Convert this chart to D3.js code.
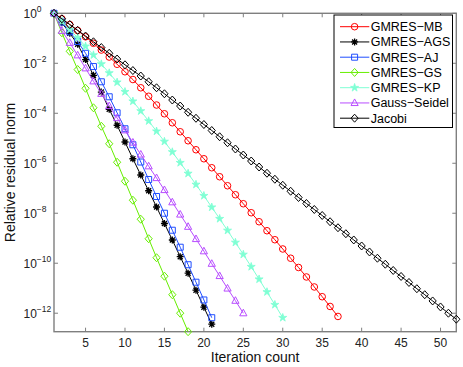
<!DOCTYPE html>
<html>
<head>
<meta charset="utf-8">
<script src="https://cdn.jsdelivr.net/npm/d3@7"></script>
<style>
  body { margin: 0; background: #fff; }
  text { font-family: "Liberation Sans", Arial, Helvetica, sans-serif; }
</style>
</head>
<body>
<div id="chart"></div>
<script>
// log10 of the relative residual norm, one value per iteration (starting at 1)
var gmresMB = [0, -0.22, -0.45, -0.69, -0.94, -1.20, -1.47, -1.75, -2.04, -2.34, -2.65, -2.98, -3.32,
  -3.67, -4.02, -4.38, -4.74, -5.10, -5.46, -5.82, -6.18, -6.54, -6.90, -7.26, -7.62, -7.98, -8.34,
  -8.70, -9.06, -9.43, -9.80, -10.17, -10.55, -10.95, -11.34, -11.73, -12.13];
var gmresAGS = [0, -0.38, -0.80, -1.24, -1.85, -2.48, -3.15, -3.84, -4.48, -5.15, -5.82, -6.47, -7.10,
  -7.75, -8.41, -9.07, -9.74, -10.40, -11.08, -11.76, -12.44];
var gmresAJ = [0, -0.35, -0.74, -1.13, -1.60, -2.13, -2.74, -3.34, -3.98, -4.62, -5.26, -5.95, -6.65,
  -7.33, -8.00, -8.68, -9.36, -10.06, -10.76, -11.47, -12.18];
var gmresGS = [0, -0.78, -1.52, -2.25, -3.00, -3.78, -4.52, -5.22, -5.96, -6.72, -7.48, -8.24, -9.02,
  -9.78, -10.52, -11.26, -12.00, -12.74];
var gmresKP = [0, -0.32, -0.65, -0.98, -1.32, -1.67, -2.03, -2.39, -2.76, -3.14, -3.52, -3.91, -4.31,
  -4.72, -5.13, -5.55, -5.98, -6.41, -6.85, -7.30, -7.76, -8.22, -8.69, -9.17, -9.65, -10.14, -10.64,
  -11.15, -11.66, -12.18];
var gaussSeidel = [0, -0.70, -1.18, -1.68, -2.20, -2.72, -3.22, -3.71, -4.19, -4.68, -5.17, -5.65,
  -6.12, -6.59, -7.07, -7.56, -8.05, -8.54, -9.03, -9.52, -10.02, -10.51, -11.01, -11.50, -12.00];
var jacobi = [0, -0.22, -0.45, -0.68, -0.91, -1.14, -1.37, -1.60, -1.83, -2.06, -2.29, -2.51, -2.74,
  -2.98, -3.22, -3.47, -3.71, -3.96, -4.20, -4.45, -4.69, -4.94, -5.18, -5.43, -5.67, -5.91, -6.15,
  -6.40, -6.64, -6.88, -7.12, -7.37, -7.61, -7.85, -8.09, -8.34, -8.58, -8.82, -9.07, -9.31, -9.55,
  -9.80, -10.04, -10.29, -10.53, -10.77, -11.02, -11.26, -11.51, -11.75, -12.00, -12.24];

var seriesNames = ["GMRES\u2212MB", "GMRES\u2212AGS", "GMRES\u2212AJ", "GMRES\u2212GS", "GMRES\u2212KP", "Gauss\u2212Seidel", "Jacobi"];
var seriesValues = [gmresMB, gmresAGS, gmresAJ, gmresGS, gmresKP, gaussSeidel, jacobi];
var xTicks = [5, 10, 15, 20, 25, 30, 35, 40, 45, 50];
var yTickExps = [0, -2, -4, -6, -8, -10, -12];

var styles = [
  { color: "#ff0000", marker: "circle" },
  { color: "#000000", marker: "asterisk" },
  { color: "#1f4dff", marker: "square" },
  { color: "#66ee00", marker: "diamond" },
  { color: "#7fffd4", marker: "star" },
  { color: "#b84dff", marker: "triangle" },
  { color: "#000000", marker: "diamond" }
];

var svgWidth = 463, svgHeight = 367;
var plotLeft = 54, plotRight = 456.3, plotTop = 13.3, plotBottom = 331.7;

var svg = d3.select("#chart").append("svg")
  .attr("width", svgWidth)
  .attr("height", svgHeight);

var x = d3.scaleLinear().domain([1, 52]).range([plotLeft, plotRight]);
var y = d3.scaleLog().domain([Math.pow(10, -12.74), 1]).range([plotBottom, plotTop]);

function markerPath(type) {
  switch (type) {
    case "circle": return d3.symbol(d3.symbolCircle, 34)();
    case "square": return "M-3,-3H3V3H-3Z";
    case "diamond": return "M0,-4L3.6,0L0,4L-3.6,0Z";
    case "triangle": return "M0,-4L3.6,2.6H-3.6Z";
    case "star": return d3.symbol(d3.symbolStar, 20)();
    case "asterisk": return "M0,-3.5V3.5M-3.5,0H3.5M-2.5,-2.5L2.5,2.5M-2.5,2.5L2.5,-2.5";
  }
}

function drawMarker(g, type, color) {
  var p = g.append("path").attr("d", markerPath(type))
    .attr("stroke", color).attr("stroke-width", 1);
  if (type === "star") p.attr("fill", color).attr("stroke-width", 0.8);
  else if (type === "asterisk") p.attr("fill", "none").attr("stroke-width", 1.3);
  else p.attr("fill", "none");
}

// axes box
var axisColor = "#7f7f7f";
svg.append("rect")
  .attr("x", plotLeft).attr("y", plotTop)
  .attr("width", plotRight - plotLeft).attr("height", plotBottom - plotTop)
  .attr("fill", "none").attr("stroke", axisColor).attr("stroke-width", 1.4);

var tickLen = 4;
xTicks.forEach(function (t) {
  svg.append("line").attr("x1", x(t)).attr("x2", x(t))
    .attr("y1", plotBottom).attr("y2", plotBottom - tickLen)
    .attr("stroke", axisColor);
  svg.append("line").attr("x1", x(t)).attr("x2", x(t))
    .attr("y1", plotTop).attr("y2", plotTop + tickLen)
    .attr("stroke", axisColor);
  svg.append("text").attr("x", x(t)).attr("y", plotBottom + 15)
    .attr("text-anchor", "middle").attr("font-size", 12).attr("fill", "#222")
    .text(t);
});

yTickExps.forEach(function (e) {
  var yy = y(Math.pow(10, e));
  svg.append("line").attr("x1", plotLeft).attr("x2", plotLeft + tickLen)
    .attr("y1", yy).attr("y2", yy).attr("stroke", axisColor);
  svg.append("line").attr("x1", plotRight).attr("x2", plotRight - tickLen)
    .attr("y1", yy).attr("y2", yy).attr("stroke", axisColor);
  var t = svg.append("text").attr("x", 23.5).attr("y", yy + 4.5)
    .attr("font-size", 12).attr("fill", "#222");
  t.append("tspan").text("10");
  t.append("tspan").attr("dy", -6).attr("font-size", 8.5)
    .text(e === 0 ? "0" : "\u2212" + Math.abs(e));
});

// axis labels
svg.append("text").attr("x", (plotLeft + plotRight) / 2).attr("y", 362)
  .attr("text-anchor", "middle").attr("font-size", 14).attr("fill", "#111")
  .text("Iteration count");
svg.append("text")
  .attr("transform", "translate(15," + ((plotTop + plotBottom) / 2) + ") rotate(-90)")
  .attr("text-anchor", "middle").attr("font-size", 14).attr("fill", "#111")
  .text("Relative residual norm");

// series
var line = d3.line()
  .x(function (d, i) { return x(i + 1); })
  .y(function (d) { return y(Math.pow(10, d)); });

seriesValues.forEach(function (vals, k) {
  var st = styles[k];
  var g = svg.append("g");
  g.append("path").attr("d", line(vals))
    .attr("fill", "none").attr("stroke", st.color).attr("stroke-width", 1);
  vals.forEach(function (d, i) {
    var m = g.append("g")
      .attr("transform", "translate(" + x(i + 1) + "," + y(Math.pow(10, d)) + ")");
    drawMarker(m, st.marker, st.color);
  });
});

// legend
var legX = 334, legY = 15, legW = 118.5, legH = 112.5, rowH = 15.25;
var legend = svg.append("g");
legend.append("rect").attr("x", legX).attr("y", legY)
  .attr("width", legW).attr("height", legH)
  .attr("fill", "#fff").attr("stroke", "#000").attr("stroke-width", 1);
seriesNames.forEach(function (name, k) {
  var st = styles[k];
  var cy = legY + 11.7 + k * rowH;
  legend.append("line").attr("x1", 340).attr("x2", 369.3)
    .attr("y1", cy).attr("y2", cy).attr("stroke", st.color);
  var m = legend.append("g").attr("transform", "translate(354.6," + cy + ")");
  drawMarker(m, st.marker, st.color);
  legend.append("text").attr("x", 370.7).attr("y", cy + 4.5)
    .attr("font-size", 12.5).attr("fill", "#000").text(name);
});
</script>
</body>
</html>
